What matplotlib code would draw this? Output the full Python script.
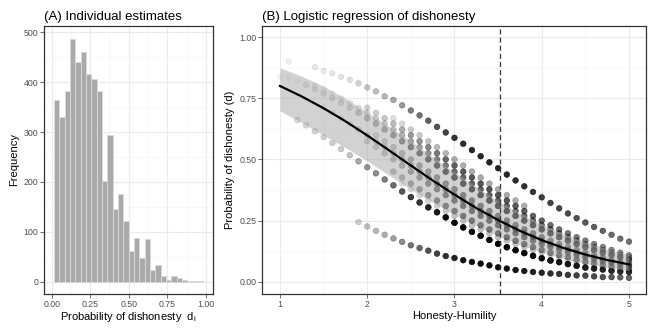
import numpy as np
import matplotlib
matplotlib.use("Agg")
import matplotlib.pyplot as plt
from matplotlib.ticker import MultipleLocator

plt.rcParams['font.family'] = ['Liberation Sans', 'DejaVu Sans']
plt.rcParams['mathtext.default'] = 'regular'

# ---- panel A: histogram of individual estimates ----
hist_counts = [365, 330, 382, 487, 441, 460, 416, 407, 382, 202, 295, 145, 175, 122,
               61, 87, 47, 86, 24, 34, 12, 4, 12, 8, 4, 1, 1, 1]
bin_start = 0.015
bin_width = 0.0346

# ---- panel B: per-study predicted curves on the Honesty-Humility grid (step 0.1) ----
hh_density = [0.08, 0.08, 0.09, 0.09, 0.10, 0.10, 0.11, 0.12, 0.14, 0.20,
              0.25, 0.28, 0.32, 0.38, 0.45, 0.55, 0.60, 0.68, 0.75, 0.82,
              0.88, 0.92, 0.94, 0.95, 0.95, 0.95, 0.94, 0.92, 0.90, 0.88,
              0.85, 0.82, 0.80, 0.78, 0.75, 0.72, 0.70, 0.68, 0.65, 0.62, 0.60]

top_curve = [0.900, np.nan, np.nan, 0.877, 0.862, 0.852, 0.837, 0.825, 0.811, 0.794,
             0.778, 0.758, 0.743, 0.721, 0.700, 0.680, 0.658, 0.633, 0.610, 0.588,
             0.564, 0.538, 0.513, 0.488, 0.464, 0.438, 0.414, 0.390, 0.367, 0.345,
             0.322, 0.300, 0.279, 0.260, 0.242, 0.224, 0.208, 0.192, 0.176, 0.164]
bottom_curve = [0.244, 0.226, 0.208, 0.192, 0.177, 0.163, 0.149, 0.138, 0.127, 0.115,
                0.105, 0.097, 0.088, 0.081, 0.074, 0.067, 0.059, 0.054, 0.048, 0.044,
                0.040, 0.037, 0.034, 0.032, 0.028, 0.026, 0.025, 0.022, 0.019, 0.019,
                0.018, 0.016]
low_curve = [0.661, 0.639, 0.615, 0.591, 0.567, 0.542, 0.517, 0.492, 0.468, 0.443,
             0.418, 0.394, 0.369, 0.346, 0.324, 0.304, 0.284, 0.263, 0.241, 0.222,
             0.204, 0.188, 0.171, 0.155, 0.141, 0.129, 0.117, 0.106, 0.096, 0.087,
             0.080, 0.072, 0.065, 0.058, 0.054, 0.050, 0.045, 0.042, 0.040]
mid_a = [0.668, 0.646, 0.622, 0.599, 0.574, 0.550, 0.525, 0.500, 0.475, 0.450,
         0.426, 0.401, 0.378, 0.354, 0.332, 0.310]
mid_1 = [0.711, 0.690, 0.668, 0.646, 0.622, 0.599,
         0.574, 0.550, 0.525, 0.500, 0.475, 0.450, 0.426, 0.401, 0.378, 0.354,
         0.332, 0.310, 0.289, 0.269, 0.250, 0.231, 0.214, 0.198, 0.182, 0.168,
         0.154, 0.142, 0.130, 0.119, 0.109]
mid_2 = [0.802, 0.786, 0.769, 0.750, 0.731, 0.711, 0.690, 0.668, 0.646, 0.622,
         0.599, 0.574, 0.550, 0.525, 0.500, 0.475, 0.450, 0.426, 0.401, 0.378,
         0.354, 0.332, 0.310, 0.289, 0.269, 0.250, 0.231, 0.214, 0.198, 0.182,
         0.168, 0.154, 0.142, 0.130, 0.119, 0.109, 0.100]
mid_3 = [0.802, 0.786, 0.769, 0.750, 0.731, 0.711, 0.690, 0.668, 0.646, 0.622,
         0.599, 0.574, 0.550, 0.525, 0.500, 0.475, 0.450, 0.426, 0.401, 0.378,
         0.354, 0.332, 0.310, 0.289, 0.269, 0.250, 0.231, 0.214, 0.198, 0.182,
         0.168, 0.154, 0.142, 0.130, 0.119, 0.109, 0.100, 0.091]
mid_4 = [0.836, 0.833, 0.821, 0.806, 0.786, 0.769, 0.750, 0.731, 0.711, 0.690,
         0.668, 0.646, 0.622, 0.599, 0.574, 0.550, 0.525, 0.500, 0.475, 0.450,
         0.426, 0.401, 0.378, 0.354, 0.332, 0.310, 0.289, 0.269, 0.250, 0.231,
         0.214, 0.198, 0.182, 0.168, 0.154, 0.142, 0.130, 0.119, 0.109, 0.100,
         0.091]
mid_5 = [0.599, 0.574, 0.550, 0.525, 0.500, 0.475,
         0.450, 0.426, 0.401, 0.378, 0.354, 0.332, 0.310, 0.289, 0.269, 0.250,
         0.231, 0.214, 0.198, 0.182, 0.168, 0.154, 0.142, 0.130, 0.119, 0.109,
         0.100, 0.091, 0.083, 0.076]
mid_6 = [0.711, 0.690, 0.668, 0.646, 0.622, 0.599, 0.574, 0.550, 0.525, 0.500,
         0.475, 0.450, 0.426, 0.401, 0.378, 0.354, 0.332, 0.310, 0.289, 0.269,
         0.250, 0.231, 0.214, 0.198, 0.182, 0.168, 0.154, 0.142, 0.130, 0.119,
         0.109, 0.100, 0.091, 0.083, 0.076, 0.069]
mid_7 = [0.574, 0.550, 0.525, 0.500, 0.475, 0.450, 0.426, 0.401, 0.378, 0.354,
         0.332, 0.310, 0.289, 0.269, 0.250, 0.231, 0.214, 0.198, 0.182, 0.168,
         0.154, 0.142, 0.130, 0.119, 0.109, 0.100, 0.091, 0.083, 0.076, 0.069,
         0.063]
mid_9 = [0.450, 0.426, 0.401, 0.378, 0.354, 0.332, 0.310, 0.289, 0.269, 0.250,
         0.231, 0.214, 0.198, 0.182, 0.168, 0.154, 0.142, 0.130, 0.119, 0.109,
         0.100, 0.091, 0.083, 0.076, 0.069, 0.063, 0.057, 0.052]
light_curve = [0.401, 0.378, 0.354, 0.332, 0.310, 0.289, 0.269, 0.250, 0.231, 0.214,
               0.198, 0.182, 0.168, 0.154, 0.142, 0.130, 0.119, 0.109, 0.100, 0.091,
               0.083, 0.076, 0.069, 0.063, 0.057, 0.052, 0.047]

# (values, first HH score, darkness weight)
curves = [
    (top_curve, 1.1, 0.9), (bottom_curve, 1.9, 1.0), (low_curve, 1.2, 1.0),
    (low_curve, 1.2, 0.8), (mid_a, 2.3, 0.35), (mid_1, 2.0, 0.7), (mid_2, 1.4, 0.65),
    (mid_3, 1.3, 0.75), (mid_4, 1.0, 0.6), (mid_5, 2.1, 0.65), (mid_6, 1.5, 0.7),
    (mid_7, 2.0, 0.75), (mid_9, 2.3, 0.75), (light_curve, 2.4, 0.25),
]

# overall fitted curve and 95% band
fit_x = [1.00, 1.25, 1.50, 1.75, 2.00, 2.25, 2.50, 2.75, 3.00, 3.25, 3.50, 3.75,
         4.00, 4.25, 4.50, 4.75, 5.00]
fit_y = [0.800, 0.757, 0.709, 0.656, 0.598, 0.537, 0.475, 0.414, 0.356, 0.301, 0.252,
         0.208, 0.170, 0.138, 0.111, 0.089, 0.071]
fit_lo = [0.698, 0.650, 0.599, 0.548, 0.494, 0.435, 0.378, 0.324, 0.274, 0.228, 0.187,
          0.151, 0.121, 0.095, 0.074, 0.058, 0.045]
fit_hi = [0.874, 0.840, 0.799, 0.749, 0.693, 0.636, 0.575, 0.511, 0.447, 0.387, 0.330,
          0.280, 0.234, 0.196, 0.163, 0.134, 0.110]
hh_mean = 3.52

tick_col = '#4d4d4d'


def style(ax):
    ax.set_facecolor('white')
    ax.grid(True, which='major', color='#ebebeb', lw=0.8, zorder=0)
    ax.grid(True, which='minor', color='#f4f4f4', lw=0.5, zorder=0)
    ax.set_axisbelow(True)
    for s in ax.spines.values():
        s.set_color('#333333')
        s.set_linewidth(0.9)
    ax.tick_params(which='major', length=2.7, width=0.5, color='#333333',
                   labelsize=6.3, labelcolor=tick_col, pad=1.5)
    ax.tick_params(which='minor', length=0)


fig = plt.figure(figsize=(6.54, 3.29), dpi=100)

# panel A
ax1 = fig.add_axes([44 / 654, 35 / 329, 169 / 654, 268 / 329])
style(ax1)
lefts = bin_start + bin_width * np.arange(len(hist_counts))
ax1.bar(lefts, hist_counts, width=bin_width, align='edge', color='#aaaaaa',
        edgecolor='#d9d9d9', linewidth=0.7, zorder=2)
ax1.set_xlim(-0.05, 1.047)
ax1.set_ylim(-25, 513)
ax1.xaxis.set_minor_locator(MultipleLocator(0.125))
ax1.yaxis.set_major_locator(MultipleLocator(100))
ax1.yaxis.set_minor_locator(MultipleLocator(50))
ax1.set_xticks([0, 0.25, 0.5, 0.75, 1.0])
ax1.set_xticklabels(['0.00', '0.25', '0.50', '0.75', '1.00'])
ax1.set_xlabel(r'Probability of dishonesty  $d_i$', fontsize=8, labelpad=1)
ax1.set_ylabel('Frequency', fontsize=8, labelpad=3)
ax1.set_title('(A) Individual estimates', loc='left', fontsize=9.5, pad=4)

# panel B
ax2 = fig.add_axes([262 / 654, 35 / 329, 384 / 654, 268 / 329])
style(ax2)
for vals, start, weight in curves:
    vals = np.array(vals, dtype=float)
    xs = np.round(start + 0.1 * np.arange(len(vals)), 1)
    idx = np.round((xs - 1) * 10).astype(int)
    alphas = np.clip(np.array(hh_density)[idx] * weight, 0.04, 1)
    cols = np.zeros((len(vals), 4))
    cols[:, 3] = alphas
    ax2.scatter(xs, vals, s=17, c=cols, edgecolors=cols, linewidths=0.4, zorder=2)
ax2.fill_between(fit_x, fit_lo, fit_hi, color='#a6a6a6', alpha=0.5, lw=0, zorder=3)
ax2.plot(fit_x, fit_y, color='black', lw=1.6, zorder=4)
ax2.axvline(hh_mean, color='#333333', lw=0.9, ls=(0, (4, 2.5)), zorder=5)
ax2.set_xlim(0.794, 5.195)
ax2.set_ylim(-0.05, 1.045)
ax2.xaxis.set_major_locator(MultipleLocator(1))
ax2.xaxis.set_minor_locator(MultipleLocator(0.5))
ax2.yaxis.set_minor_locator(MultipleLocator(0.125))
ax2.set_yticks([0, 0.25, 0.5, 0.75, 1.0])
ax2.set_yticklabels(['0.00', '0.25', '0.50', '0.75', '1.00'])
ax2.set_xlabel('Honesty-Humility', fontsize=8, labelpad=1.5)
ax2.set_ylabel('Probability of dishonesty (d)', fontsize=8, labelpad=3)
ax2.set_title('(B) Logistic regression of dishonesty', loc='left', fontsize=9.5, pad=4)

fig.savefig('out.png', dpi=100)
